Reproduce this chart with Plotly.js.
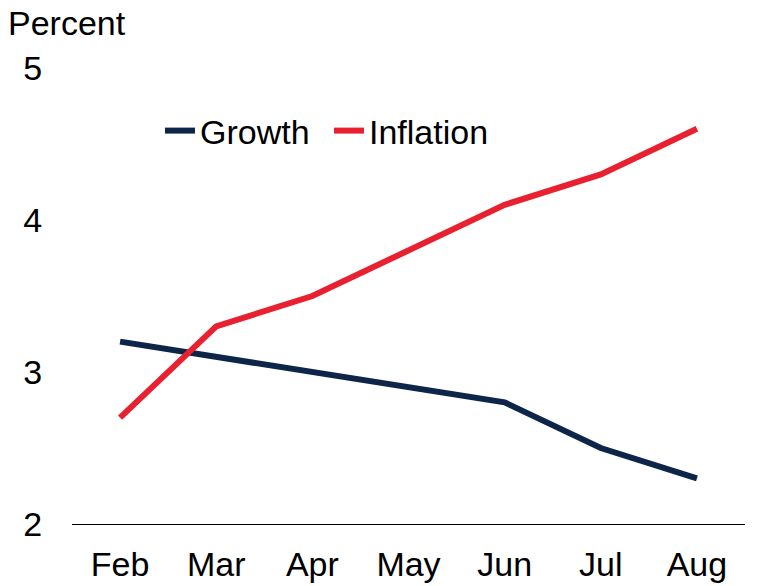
<!DOCTYPE html>
<html>
<head>
<meta charset="utf-8">
<script src="https://cdn.plot.ly/plotly-3.0.1.min.js"></script>
<style>html,body{margin:0;padding:0;background:#fff}#chart{width:780px;height:586px}</style>
</head>
<body>
<div id="chart"></div>
<script>
const months = ["Feb", "Mar", "Apr", "May", "Jun", "Jul", "Aug"];
const growth = [3.2, 3.1, 3.0, 2.9, 2.8, 2.5, 2.3];
const inflation = [2.7, 3.3, 3.5, 3.8, 4.1, 4.3, 4.6];
const yTicks = [2, 3, 4, 5];

const font = "Liberation Sans, Arial, sans-serif";
const traces = [
  {x: months, y: growth, name: "Growth", type: "scatter", mode: "lines",
   line: {color: "#0d2548", width: 6}},
  {x: months, y: inflation, name: "Inflation", type: "scatter", mode: "lines",
   line: {color: "#e8202f", width: 6}}
];
const layout = {
  width: 780, height: 586,
  margin: {l: 72, r: 35, t: 68, b: 62},
  paper_bgcolor: "#fff", plot_bgcolor: "#fff",
  font: {family: font, size: 34, color: "#000"},
  showlegend: true,
  legend: {orientation: "h", x: 88/673, y: (524-131)/456, xanchor: "left", yanchor: "middle",
           font: {family: font, size: 34, color: "#000"}, bgcolor: "rgba(0,0,0,0)",
           itemwidth: 30, entrywidth: 124, entrywidthmode: "pixels"},
  xaxis: {type: "category", range: [-0.5, 6.5], showgrid: false, zeroline: false,
          showline: true, linecolor: "#000", linewidth: 1, ticks: "outside",
          ticklen: 10, tickcolor: "rgba(0,0,0,0)", tickfont: {family: font, size: 34}, fixedrange: true},
  yaxis: {range: [2, 5], tickvals: yTicks, ticktext: yTicks.map(String),
          showgrid: false, zeroline: false, showline: false, ticks: "outside",
          ticklen: 22, tickcolor: "rgba(0,0,0,0)",
          tickfont: {family: font, size: 34}, fixedrange: true},
  annotations: [{text: "Percent", xref: "paper", yref: "paper", x: -72/673, y: 1,
                 xanchor: "left", yanchor: "bottom", xshift: 6, yshift: 24, showarrow: false,
                 font: {family: font, size: 34, color: "#000"}}]
};
Plotly.newPlot("chart", traces, layout, {displayModeBar: false, staticPlot: true});
</script>
</body>
</html>
